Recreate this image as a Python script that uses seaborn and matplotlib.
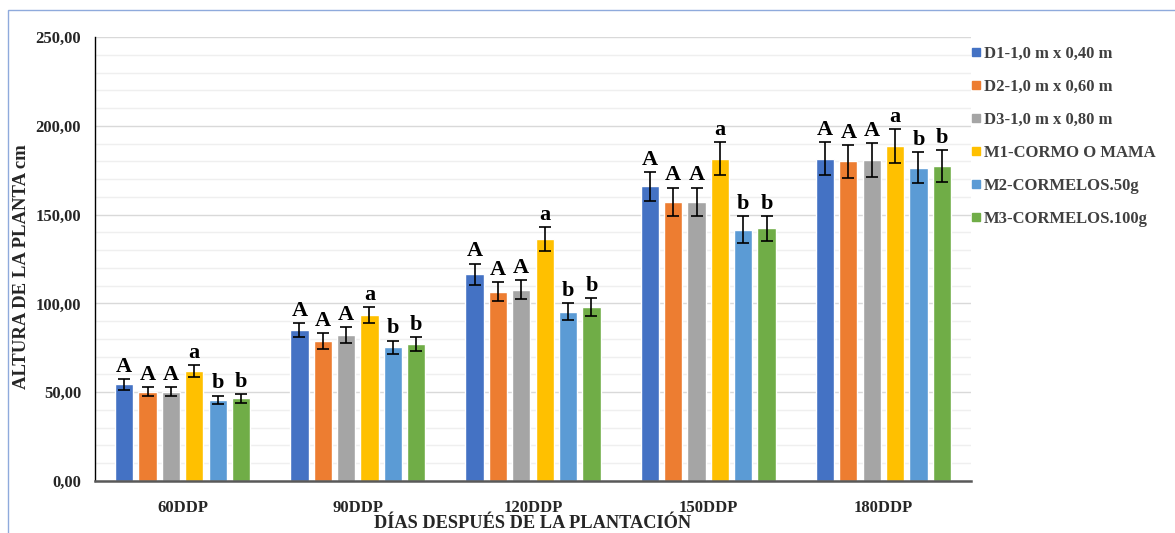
import matplotlib
matplotlib.use("Agg")
import matplotlib.pyplot as plt
from matplotlib.lines import Line2D
from matplotlib.patches import Rectangle
from matplotlib.ticker import MultipleLocator, FuncFormatter
import seaborn as sns
import pandas as pd

# Sampling dates
dates = ["60DDP", "90DDP", "120DDP", "150DDP", "180DDP"]

# Treatments (planting distances and seed material)
treatments = ["D1-1,0 m x 0,40 m", "D2-1,0 m x 0,60 m", "D3-1,0 m x 0,80 m",
              "M1-CORMO O MAMA", "M2-CORMELOS.50g", "M3-CORMELOS.100g"]

# Mean plant height (cm) per treatment, one value per date
d1_height = [54.4, 85.0, 116.4, 165.9, 181.5]
d2_height = [50.3, 78.8, 106.6, 157.3, 180.0]
d3_height = [50.3, 82.2, 107.7, 157.3, 180.7]
m1_height = [62.1, 93.5, 136.3, 181.5, 188.4]
m2_height = [45.6, 75.3, 95.3, 141.5, 176.4]
m3_height = [46.6, 77.1, 98.0, 142.3, 177.2]

# Standard error per treatment
d1_err = [3.0, 4.0, 6.0, 8.2, 9.4]
d2_err = [2.5, 4.3, 5.3, 7.9, 9.2]
d3_err = [2.5, 4.5, 5.4, 7.9, 9.4]
m1_err = [3.3, 4.6, 6.6, 9.1, 9.6]
m2_err = [2.5, 3.8, 4.7, 7.5, 8.8]
m3_err = [2.5, 4.0, 4.9, 7.0, 9.1]

# Mean-separation letters
d1_letters = ["A", "A", "A", "A", "A"]
d2_letters = ["A", "A", "A", "A", "A"]
d3_letters = ["A", "A", "A", "A", "A"]
m1_letters = ["a", "a", "a", "a", "a"]
m2_letters = ["b", "b", "b", "b", "b"]
m3_letters = ["b", "b", "b", "b", "b"]

heights = [d1_height, d2_height, d3_height, m1_height, m2_height, m3_height]
errors = [d1_err, d2_err, d3_err, m1_err, m2_err, m3_err]
letters = [d1_letters, d2_letters, d3_letters, m1_letters, m2_letters, m3_letters]

colors = ["#4472C4", "#ED7D31", "#A5A5A5", "#FFC000", "#5B9BD5", "#70AD47"]

rows = []
for t, vals in zip(treatments, heights):
    for d, v in zip(dates, vals):
        rows.append({"fecha": d, "tratamiento": t, "altura": v})
df = pd.DataFrame(rows)

sns.set_style("white")
plt.rcParams["font.family"] = ["Liberation Serif", "DejaVu Serif"]
plt.rcParams["font.weight"] = "bold"

fig = plt.figure(figsize=(11.75, 5.33), dpi=100)
ax = fig.add_axes([95 / 1175, 1 - 481 / 533, (971 - 95) / 1175, (481 - 37) / 533])

sns.barplot(data=df, x="fecha", y="altura", hue="tratamiento",
            order=dates, hue_order=treatments, palette=colors,
            errorbar=None, width=0.8, gap=0.22, saturation=1,
            legend=False, ax=ax, zorder=2)

# Error bars and letters on top of each bar
for cont, errs, labs in zip(ax.containers, errors, letters):
    xs = [p.get_x() + p.get_width() / 2 for p in cont.patches]
    hs = [p.get_height() for p in cont.patches]
    ax.errorbar(xs, hs, yerr=errs, fmt="none", ecolor="black",
                elinewidth=1.2, capsize=4, capthick=1.2, zorder=3)
    for x, h, e, lab in zip(xs, hs, errs, labs):
        ax.text(x, h + e + 1.2, lab, ha="center", va="bottom",
                fontsize=16, fontweight="bold", color="black")

ax.set_ylim(0, 250)
ax.set_xlim(-0.5, len(dates) - 0.5)
ax.yaxis.set_major_locator(MultipleLocator(50))
ax.yaxis.set_minor_locator(MultipleLocator(10))
ax.yaxis.set_major_formatter(FuncFormatter(lambda v, _: f"{v:.2f}".replace(".", ",")))
ax.grid(axis="y", which="major", color="#D9D9D9", linewidth=1.0, zorder=0)
ax.grid(axis="y", which="minor", color="#EFEFEF", linewidth=1.0, zorder=0)
ax.set_axisbelow(True)

for s in ["top", "right"]:
    ax.spines[s].set_visible(False)
ax.spines["left"].set_color("black")
ax.spines["left"].set_linewidth(1.0)
ax.spines["bottom"].set_color("#595959")
ax.spines["bottom"].set_linewidth(1.8)

ax.tick_params(axis="y", which="both", length=0, pad=10, labelsize=12)
ax.tick_params(axis="x", length=0, pad=14, labelsize=12)
for lbl in ax.get_xticklabels() + ax.get_yticklabels():
    lbl.set_fontweight("bold")

ax.set_xlabel("DÍAS DESPUÉS DE LA PLANTACIÓN", fontsize=13.2, fontweight="bold", labelpad=-1)
ax.set_ylabel("")
fig.text(22 / 1175, 1 - 267 / 533, "ALTURA DE LA PLANTA cm", rotation=90,
         ha="center", va="center", fontsize=13.5, fontweight="bold")

handles = [Line2D([0], [0], marker="s", linestyle="none", markersize=6,
                  markerfacecolor=c, markeredgecolor=c) for c in colors]
leg = fig.legend(handles, treatments, loc="upper left",
                 bbox_to_anchor=(964 / 1175, 1 - 39 / 533),
                 frameon=False, handlelength=0.6, handletextpad=0.2,
                 labelspacing=1.02, borderaxespad=0,
                 prop={"family": "Liberation Serif", "weight": "bold", "size": 12})
for txt in leg.get_texts():
    txt.set_color("#404040")

# Thin outer frame of the chart area
fig.patches.append(Rectangle((8 / 1175, -0.1), 1.2, 1 - 10 / 533 + 0.1,
                             transform=fig.transFigure, fill=False,
                             edgecolor="#8FAADC", linewidth=1.0))

fig.savefig("out.png", dpi=100)
